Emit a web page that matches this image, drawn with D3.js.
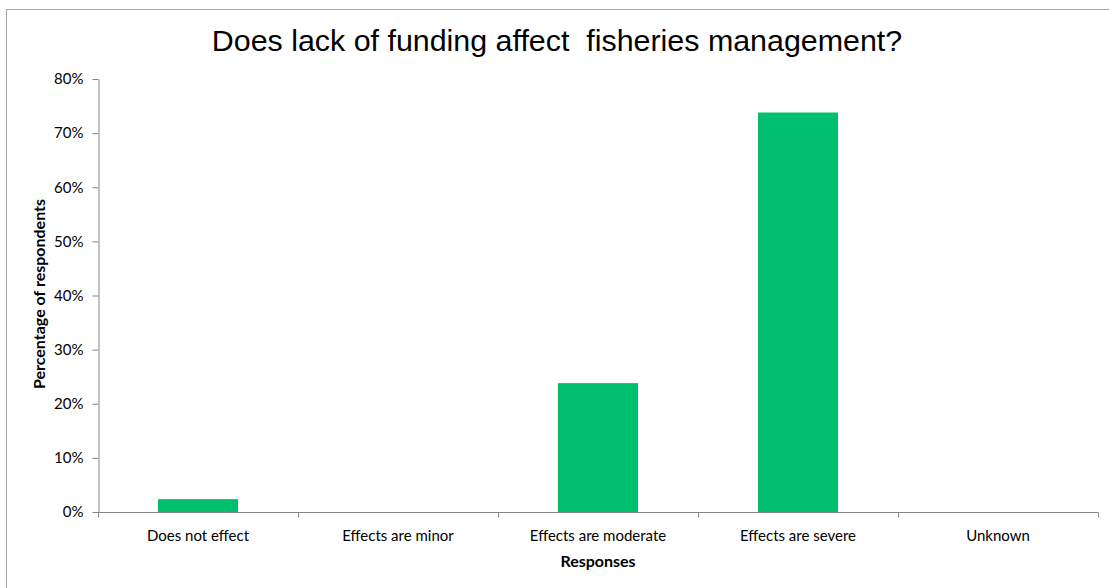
<!DOCTYPE html>
<html><head><meta charset="utf-8">
<script src="https://cdn.jsdelivr.net/npm/d3@7"></script>
<style>body{margin:0;background:#fff}svg{display:block}</style>
</head><body><svg id="c" width="1109" height="588"></svg>
<script>
const categories = ["Does not effect","Effects are minor","Effects are moderate","Effects are severe","Unknown"];
const values = [0.0238, 0, 0.2381, 0.7381, 0];
const yTicks = [0,0.1,0.2,0.3,0.4,0.5,0.6,0.7,0.8];
const title = "Does lack of funding affect  fisheries management?";

const svg = d3.select("#c");
const x = d3.scaleBand().domain(categories).range([98,1098]).paddingInner(0.6).paddingOuter(0.3);
const y = d3.scaleLinear().domain([0,0.8]).range([512,79]);
const lbl = "Lato, 'Open Sans', sans-serif";

svg.append("rect").attr("x",6.5).attr("y",9.5).attr("width",1200).attr("height",700)
  .attr("fill","#fff").attr("stroke","#a6a6a6").attr("stroke-width",1);

svg.append("text").attr("x",557).attr("y",51).attr("text-anchor","middle")
  .attr("font-family","'Liberation Sans', Arial, sans-serif").attr("font-size",30.4).attr("fill","#000").attr("xml:space","preserve").text(title);

svg.selectAll(".bar").data(values).join("rect")
  .attr("x",(d,i)=>x(categories[i])).attr("width",x.bandwidth())
  .attr("y",d=>y(d)).attr("height",d=>512-y(d)).attr("fill","#00bf6f");

const ya = svg.append("g").attr("transform","translate(98.5,0)")
  .call(d3.axisLeft(y).tickValues(yTicks).tickFormat(d3.format(".0%")).tickSize(6).tickSizeOuter(0).tickPadding(9));
ya.select(".domain").attr("stroke","#868686");
ya.selectAll(".tick line").attr("stroke","#868686");
ya.selectAll(".tick text").attr("font-family",lbl).attr("font-size",15).attr("fill","#000");

const xa = svg.append("g").attr("transform","translate(0,512.5)");
xa.append("line").attr("x1",98).attr("x2",1098).attr("stroke","#868686");
const bounds = d3.range(categories.length+1).map(i=>98+i*200);
xa.selectAll(".tk").data(bounds).join("line").attr("x1",d=>d+0.5).attr("x2",d=>d+0.5).attr("y1",0).attr("y2",5).attr("stroke","#868686");
xa.selectAll(".tl").data(categories).join("text")
  .attr("x",d=>x(d)+x.bandwidth()/2).attr("y",28).attr("text-anchor","middle")
  .attr("font-family",lbl).attr("font-size",15).attr("fill","#000").text(d=>d);

svg.append("text").attr("x",598).attr("y",567).attr("text-anchor","middle")
  .attr("font-family",lbl).attr("font-weight","bold").attr("font-size",16).text("Responses");
svg.append("text").attr("transform","translate(45,294) rotate(-90)").attr("text-anchor","middle")
  .attr("font-family",lbl).attr("font-weight","bold").attr("font-size",16).text("Percentage of respondents");
</script></body></html>
